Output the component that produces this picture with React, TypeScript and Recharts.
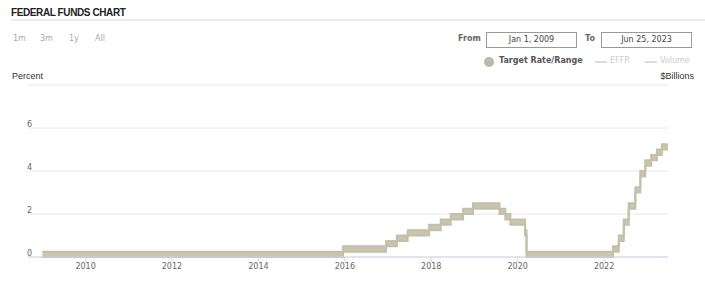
import React from 'react';
import { ComposedChart, Area, XAxis, YAxis, CartesianGrid } from 'recharts';

const changeDates = [
  '2009-01-01', '2015-12-17', '2016-12-15', '2017-03-16', '2017-06-15', '2017-12-14',
  '2018-03-22', '2018-06-14', '2018-09-27', '2018-12-20', '2019-08-01', '2019-09-19',
  '2019-10-31', '2020-03-04', '2020-03-16', '2022-03-17', '2022-05-05', '2022-06-16',
  '2022-07-28', '2022-09-22', '2022-11-03', '2022-12-15', '2023-02-02', '2023-03-23',
  '2023-05-04', '2023-06-25',
];
const lowerBound = [
  0, 0.25, 0.5, 0.75, 1.0, 1.25,
  1.5, 1.75, 2.0, 2.25, 2.0, 1.75,
  1.5, 1.0, 0, 0.25, 0.75, 1.5,
  2.25, 3.0, 3.75, 4.25, 4.5, 4.75,
  5.0, 5.0,
];
const upperBound = [
  0.25, 0.5, 0.75, 1.0, 1.25, 1.5,
  1.75, 2.0, 2.25, 2.5, 2.25, 2.0,
  1.75, 1.25, 0.25, 0.5, 1.0, 1.75,
  2.5, 3.25, 4.0, 4.5, 4.75, 5.0,
  5.25, 5.25,
];
const yearTicks = ['2010', '2012', '2014', '2016', '2018', '2020', '2022'];
const yTicks = [0, 2, 4, 6, 8];
const rangeButtons = ['1m', '3m', '1y', 'All'];
const rangeButtonX = [13, 40, 69, 95];
const fromDate = 'Jan 1, 2009';
const toDate = 'Jun 25, 2023';
const domainStart = '2008-09-01';
const domainEnd = '2023-06-25';

const toTs = (s: string) => new Date(s + 'T00:00:00Z').getTime();

const data = changeDates.map((d, i) => ({
  t: toTs(d),
  range: [lowerBound[i], upperBound[i]],
}));

const BAND_FILL = '#c9c5b0';
const BAND_STROKE = '#c3bfa9';
const sans = '"Liberation Sans", Arial, sans-serif';
const verd = '"DejaVu Sans", Verdana, sans-serif';

const renderYTick = (props: any) => {
  const { y, payload } = props;
  if (payload.value === 8) return <g />;
  return (
    <text x={27} y={y - 1} fontSize={8} fill="#666" fontFamily={verd}>
      {payload.value}
    </text>
  );
};

export default function App() {
  return (
    <div style={{ position: 'absolute', left: 0, top: 0, width: 705, height: 286, background: '#fff', overflow: 'hidden' }}>
      <div style={{ position: 'absolute', left: 11, top: 7, fontFamily: sans, fontWeight: 'bold', fontSize: 10, letterSpacing: -0.4, color: '#222' }}>
        FEDERAL FUNDS CHART
      </div>
      <div style={{ position: 'absolute', left: 11, top: 19, width: 694, height: 2, background: '#ececec' }} />
      {rangeButtons.map((b, i) => (
        <div key={b} style={{ position: 'absolute', left: rangeButtonX[i], top: 34, fontFamily: verd, fontSize: 8, color: '#aaa' }}>
          {b}
        </div>
      ))}
      <div style={{ position: 'absolute', left: 458, top: 34, fontFamily: verd, fontSize: 8, fontWeight: 'bold', color: '#666' }}>From</div>
      <div style={{ position: 'absolute', left: 486, top: 32, width: 89, height: 14, border: '1px solid #999', fontFamily: verd, fontSize: 8, color: '#444', textAlign: 'center', lineHeight: '14px' }}>
        {fromDate}
      </div>
      <div style={{ position: 'absolute', left: 585, top: 34, fontFamily: verd, fontSize: 8, fontWeight: 'bold', color: '#666' }}>To</div>
      <div style={{ position: 'absolute', left: 601, top: 32, width: 89, height: 14, border: '1px solid #999', fontFamily: verd, fontSize: 8, color: '#444', textAlign: 'center', lineHeight: '14px' }}>
        {toDate}
      </div>
      <div style={{ position: 'absolute', left: 484, top: 57, width: 10, height: 10, borderRadius: 5, background: '#bdb9a3' }} />
      <div style={{ position: 'absolute', left: 499, top: 56, fontFamily: verd, fontSize: 8, fontWeight: 'bold', color: '#555' }}>Target Rate/Range</div>
      <div style={{ position: 'absolute', left: 595, top: 61, width: 12, height: 2, background: '#ddd' }} />
      <div style={{ position: 'absolute', left: 610, top: 56, fontFamily: verd, fontSize: 8, color: '#ccc' }}>EFFR</div>
      <div style={{ position: 'absolute', left: 645, top: 61, width: 12, height: 2, background: '#ddd' }} />
      <div style={{ position: 'absolute', left: 660, top: 56, fontFamily: verd, fontSize: 8, color: '#ccc' }}>Volume</div>
      <div style={{ position: 'absolute', right: 11, top: 71, fontFamily: sans, fontSize: 9, color: '#333' }}>$Billions</div>
      <div style={{ position: 'absolute', left: 12, top: 71, fontFamily: sans, fontSize: 9, color: '#333' }}>Percent</div>
      <div style={{ position: 'absolute', left: 0, top: 0 }}>
        <ComposedChart width={705} height={286} data={data} margin={{ top: 85, right: 37, left: 0, bottom: 0 }}>
          <CartesianGrid vertical={false} stroke="#e8e8e8" />
          <XAxis
            dataKey="t"
            type="number"
            domain={[toTs(domainStart), toTs(domainEnd)]}
            allowDataOverflow
            ticks={yearTicks.map((y) => toTs(y + '-01-01'))}
            tickFormatter={(v: number) => String(new Date(v).getUTCFullYear())}
            interval={0}
            height={29}
            tickSize={5}
            tickMargin={1}
            stroke="#ccd6eb"
            tick={{ fill: '#666', fontSize: 8, fontFamily: verd }}
          />
          <YAxis
            domain={[0, 8]}
            ticks={yTicks}
            width={28}
            axisLine={false}
            tickLine={false}
            tick={renderYTick}
            interval={0}
          />
          <Area
            dataKey="range"
            type="stepAfter"
            fill={BAND_FILL}
            fillOpacity={1}
            stroke={BAND_STROKE}
            strokeWidth={2}
            isAnimationActive={false}
            dot={false}
            activeDot={false}
          />
        </ComposedChart>
      </div>
    </div>
  );
}
